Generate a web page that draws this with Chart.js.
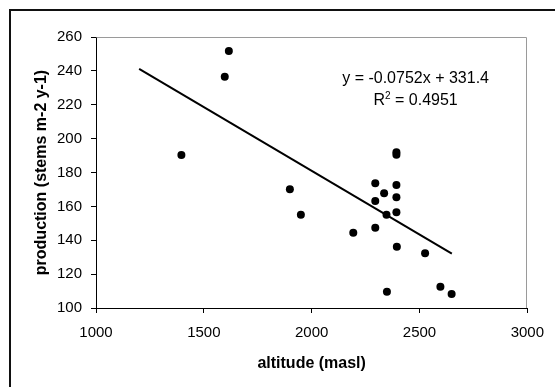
<!DOCTYPE html>
<html><head><meta charset="utf-8">
<script src="https://cdn.jsdelivr.net/npm/chart.js@4.4.1/dist/chart.umd.min.js"></script>
<style>html,body{margin:0;padding:0;background:#fff}#wrap{width:555px;height:387px;position:relative}canvas{display:block}</style>
</head><body><div id="wrap"><canvas id="c" width="555" height="387"></canvas></div>
<script>
// Data
const altitude   = [1396, 1597, 1616, 1899, 1950, 2193, 2295, 2295, 2295, 2336, 2347, 2349, 2393, 2393, 2393, 2393, 2393, 2395, 2526, 2597, 2649];
const production = [190.3, 236.6, 251.7, 170.1, 155.0, 144.5, 173.6, 163.2, 147.4, 167.7, 155.0, 109.6, 192.0, 190.5, 172.6, 165.4, 156.5, 136.2, 132.3, 112.6, 108.3];
const trendX = [1200, 2650];
const trendY = [241.2, 132.1];
const xTicks = [1000, 1500, 2000, 2500, 3000];
const yTicks = [100, 120, 140, 160, 180, 200, 220, 240, 260];
const xTitle = 'altitude (masl)';
const yTitle = 'production (stems m-2 y-1)';
const equationText = 'y = -0.0752x + 331.4';
const r2Value = '0.4951';

const FONT = '"Liberation Sans", Arial, sans-serif';

const points = altitude.map((x, i) => ({x: x, y: production[i]}));
const trend = trendX.map((x, i) => ({x: x, y: trendY[i]}));

const framePlugin = {
  id: 'frame',
  beforeDraw(chart) {
    const ctx = chart.ctx;
    ctx.save();
    ctx.fillStyle = '#fff';
    ctx.fillRect(0, 0, chart.width, chart.height);
    ctx.fillStyle = '#111';
    ctx.fillRect(9, 9, chart.width - 9, 2);
    ctx.fillRect(9, 9, 2, chart.height - 9);
    ctx.restore();
  },
  beforeDatasetsDraw(chart) {
    const {ctx, chartArea: a} = chart;
    ctx.save();
    ctx.strokeStyle = '#9a9a9a';
    ctx.lineWidth = 1;
    ctx.beginPath();
    ctx.moveTo(Math.round(a.left) + 0.5, Math.round(a.top) + 0.5);
    ctx.lineTo(Math.round(a.right) - 0.5, Math.round(a.top) + 0.5);
    ctx.lineTo(Math.round(a.right) - 0.5, Math.round(a.bottom));
    ctx.stroke();
    ctx.restore();
  },
  afterDraw(chart) {
    const {ctx, chartArea: a} = chart;
    ctx.save();
    ctx.fillStyle = '#000';
    ctx.textBaseline = 'middle';
    ctx.font = '16px ' + FONT;
    const cx = a.left + (a.right - a.left) * 0.741;
    ctx.textAlign = 'center';
    ctx.fillText(equationText, cx, a.top + 42);
    // R² line
    const partA = 'R', partB = ' = ' + r2Value;
    ctx.font = '16px ' + FONT;
    const wA = ctx.measureText(partA).width;
    const wB = ctx.measureText(partB).width;
    ctx.font = '10px ' + FONT;
    const wS = ctx.measureText('2').width;
    const total = wA + wS + wB;
    let x0 = cx - total / 2;
    const y2 = a.top + 64;
    ctx.textAlign = 'left';
    ctx.font = '16px ' + FONT;
    ctx.fillText(partA, x0, y2);
    ctx.font = '10px ' + FONT;
    ctx.fillText('2', x0 + wA, y2 - 5);
    ctx.font = '16px ' + FONT;
    ctx.fillText(partB, x0 + wA + wS, y2);
    ctx.restore();
  }
};

new Chart(document.getElementById('c'), {
  type: 'scatter',
  data: {
    datasets: [
      {
        label: 'data',
        data: points,
        backgroundColor: '#000',
        borderWidth: 0,
        pointRadius: 4,
        pointHoverRadius: 4,
        order: 1
      },
      {
        type: 'line',
        label: 'trend',
        data: trend,
        borderColor: '#000',
        borderWidth: 2,
        pointRadius: 0,
        fill: false,
        order: 2
      }
    ]
  },
  options: {
    responsive: false,
    animation: false,
    devicePixelRatio: 1,
    layout: {padding: {top: 37, right: 26, left: 0, bottom: 0}},
    plugins: {legend: {display: false}, tooltip: {enabled: false}},
    scales: {
      x: {
        type: 'linear',
        min: 1000, max: 3000,
        afterBuildTicks(s) { s.ticks = xTicks.map(v => ({value: v})); },
        afterFit(s) { s.height = 79; },
        grid: {drawOnChartArea: false, drawTicks: true, tickLength: 5, tickColor: '#000'},
        border: {color: '#000', width: 1},
        ticks: {color: '#000', font: {family: FONT, size: 15}, padding: 11, maxRotation: 0, callback: v => String(v)},
        title: {display: true, text: xTitle, color: '#000', font: {family: FONT, size: 16, weight: 'bold'}, padding: {top: 0, bottom: 14}}
      },
      y: {
        type: 'linear',
        min: 100, max: 260,
        afterBuildTicks(s) { s.ticks = yTicks.map(v => ({value: v})); },
        afterFit(s) { s.width = 96; },
        grid: {drawOnChartArea: false, drawTicks: true, tickLength: 5, tickColor: '#000'},
        border: {color: '#000', width: 1},
        ticks: {color: '#000', font: {family: FONT, size: 15}, padding: 9, callback: v => String(v)},
        title: {display: true, text: yTitle, color: '#000', font: {family: FONT, size: 16, weight: 'bold'}, padding: {top: 32, bottom: 0}}
      }
    }
  },
  plugins: [framePlugin]
});
</script>
</body></html>
